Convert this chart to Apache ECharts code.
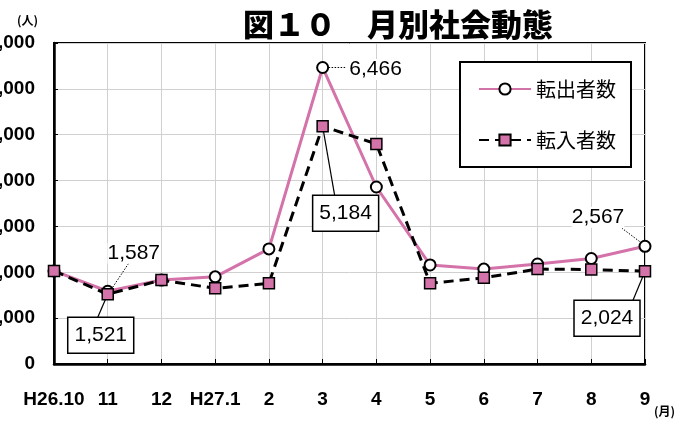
<!DOCTYPE html>
<html><head><meta charset="utf-8">
<script src="https://cdn.jsdelivr.net/npm/echarts@6/dist/echarts.min.js"></script>
<style>html,body{margin:0;padding:0;background:#fff}#c{width:693px;height:422px}</style>
</head><body><div id="c"></div>
<script>
const categories = ['H26.10','11','12','H27.1','2','3','4','5','6','7','8','9'];
const outflow = [2030,1587,1830,1900,2510,6466,3860,2160,2070,2180,2300,2567];
const inflow  = [2030,1521,1830,1650,1760,5184,4800,1760,1880,2070,2060,2024];
const seriesNames = ['転出者数','転入者数'];
const titleText = '図１０　月別社会動態';
const yUnit = '(人)';
const xUnit = '(月)';
// annotated points: [seriesIndex, categoryIndex]
const notes = [[0,1],[1,1],[0,5],[1,5],[0,11],[1,11]];

const fmt = v => String(v).replace(/\B(?=(\d{3})+(?!\d))/g, ',');
const PINK = '#d472aa';
const chart = echarts.init(document.getElementById('c'));
const lblFont = {fontFamily:'Liberation Sans, Arial, sans-serif', fontWeight:'bold', fontSize:19, color:'#000'};
chart.setOption({
  animation:false,
  backgroundColor:'#fff',
  title:{text:titleText, left:238, top:4, textStyle:{fontFamily:'Noto Sans CJK JP', fontWeight:900, fontSize:31, color:'#000'}},
  grid:{left:54, right:48, top:43, bottom:58, show:true, borderColor:'#000', borderWidth:2, backgroundColor:'#fff',
    containLabel:false, outerBoundsMode:'none'},
  legend:{orient:'vertical', left:460, top:62, padding:[17,15,17,18], itemGap:31, itemWidth:52, itemHeight:14,
    borderColor:'#000', borderWidth:2, backgroundColor:'#fff',
    textStyle:{fontFamily:'Noto Sans CJK JP', fontSize:20, color:'#000'}, data:seriesNames},
  xAxis:{type:'category', data:categories, boundaryGap:false,
    axisLine:{lineStyle:{color:'#000', width:2.5}},
    axisTick:{inside:true, length:5, lineStyle:{color:'#000', width:1}},
    axisLabel:Object.assign({margin:26, interval:0}, lblFont),
    splitLine:{show:true, lineStyle:{color:'#d0d0d0', width:1}}},
  yAxis:{type:'value', min:0, max:7000, interval:1000,
    axisLine:{show:true, lineStyle:{color:'#000', width:2.5}},
    axisTick:{show:true, inside:true, length:4, lineStyle:{color:'#000'}},
    axisLabel:Object.assign({margin:19, formatter:fmt}, lblFont),
    splitLine:{lineStyle:{color:'#d0d0d0', width:1}}},
  series:[
    {name:seriesNames[0], type:'line', data:outflow, symbol:'circle', symbolSize:11,
     lineStyle:{color:PINK, width:3}, itemStyle:{color:'#fff', borderColor:'#000', borderWidth:2}, z:2},
    {name:seriesNames[1], type:'line', data:inflow, symbol:'rect', symbolSize:11,
     lineStyle:{color:'#000', width:3, type:[10,6]}, itemStyle:{color:PINK, borderColor:'#000', borderWidth:1.5}, z:3}
  ]
});

// annotation layout offsets relative to the point (dx,dy of label centre, boxed, leader style)
const layout = [
  {dx:26, dy:-38, boxed:false, dotted:true, l0:[5,-4], l1:[21,-28]},
  {dx:-7, dy:41, boxed:true, dotted:false, l0:[0,0], l1:[-10,23]},
  {dx:53, dy:2, boxed:false, dotted:true, l0:[6,0], l1:[23,0]},
  {dx:23, dy:87, boxed:true, dotted:false, l0:[0,0], l1:[12,69]},
  {dx:-47, dy:-29, boxed:false, dotted:true, l0:[-3,-3], l1:[-23,-18]},
  {dx:-38, dy:47, boxed:true, dotted:false, l0:[0,0], l1:[-12,29]}
];
const g = [];
notes.forEach((n, i) => {
  const data = n[0] === 0 ? outflow : inflow;
  const p = chart.convertToPixel({seriesIndex:n[0]}, [n[1], data[n[1]]]);
  const L = layout[i];
  const cx = p[0] + L.dx, cy = p[1] + L.dy;
  g.push({type:'line', shape:{x1:p[0]+L.l0[0], y1:p[1]+L.l0[1], x2:p[0]+L.l1[0], y2:p[1]+L.l1[1]},
    style:{stroke:'#000', lineWidth:L.dotted?1:1.2, lineDash:L.dotted?[1.5,1.5]:null}, z:1});
  if (L.boxed) {
    g.push({type:'rect', shape:{x:cx-33, y:cy-18, width:66, height:36}, style:{fill:'#fff', stroke:'#000', lineWidth:1.5}, z:10});
  }
  g.push({type:'text', x:cx, y:cy, style:{text:fmt(data[n[1]]), align:'center', verticalAlign:'middle',
    font:'500 21px "Liberation Sans", Arial, sans-serif', fill:'#000', backgroundColor:L.boxed?null:'#fff'}, z:11});
});
g.push({type:'text', left:17, top:14, style:{text:yUnit, font:'bold 12px "Noto Sans CJK JP"', fill:'#000'}});
g.push({type:'text', left:654, top:405, style:{text:xUnit, font:'bold 12px "Noto Sans CJK JP"', fill:'#000'}});
chart.setOption({graphic:g});
</script></body></html>
